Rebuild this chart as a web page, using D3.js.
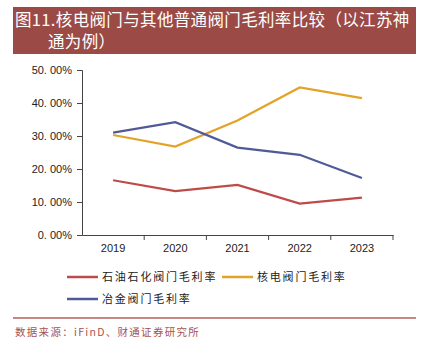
<!DOCTYPE html>
<html>
<head>
<meta charset="utf-8">
<script src="https://cdn.jsdelivr.net/npm/d3@7"></script>
<style>
  body { margin: 0; background: #fff; }
  svg { display: block; }
</style>
</head>
<body>
<div id="chart"></div>
<script>
// data
const years = ['2019', '2020', '2021', '2022', '2023'];
const petro = [16.6, 13.3, 15.2, 9.5, 11.3];     // 石油石化阀门毛利率
const nuclear = [30.3, 26.8, 34.7, 44.7, 41.5];  // 核电阀门毛利率
const metal = [31.0, 34.2, 26.5, 24.3, 17.3];    // 冶金阀门毛利率
const yTicks = [0, 10, 20, 30, 40, 50];

const series = [
  { name: '石油石化阀门毛利率', values: petro, color: '#BE4B48' },
  { name: '核电阀门毛利率', values: nuclear, color: '#E3A228' },
  { name: '冶金阀门毛利率', values: metal, color: '#505A98' },
];

const width = 425;
const height = 348;
const cjk = '"Noto Sans CJK SC", "Noto Sans", sans-serif';

const svg = d3.select('#chart')
  .append('svg')
  .attr('width', width)
  .attr('height', height);

// title banner
svg.append('rect')
  .attr('x', 13).attr('y', 7)
  .attr('width', 403).attr('height', 47)
  .attr('fill', '#9C4A46');

const title = svg.append('text')
  .attr('fill', '#fff')
  .attr('font-family', cjk)
  .attr('font-size', 16.5)
  .attr('letter-spacing', 0.35);
title.append('tspan').attr('x', 15).attr('y', 26)
  .text('图11.核电阀门与其他普通阀门毛利率比较（以江苏神');
title.append('tspan').attr('x', 48).attr('y', 48)
  .text('通为例）');

// scales
const x = d3.scaleBand().domain(years).range([82, 393]);
const y = d3.scaleLinear().domain([0, 50]).range([235, 70]);

// y axis
const yAxis = svg.append('g')
  .attr('transform', 'translate(82,0)')
  .call(d3.axisLeft(y).tickValues(yTicks).tickSize(5).tickPadding(5)
    .tickFormat((d) => d3.format('.2f')(d).replace('.', '. ') + '%'));
yAxis.selectAll('text')
  .attr('font-family', 'Arial, "Liberation Sans", sans-serif')
  .attr('font-size', 11)
  .attr('fill', '#222');

// x axis
const xAxis = svg.append('g')
  .attr('transform', 'translate(0,235)')
  .call(d3.axisBottom(x).tickSize(0).tickPadding(9));
xAxis.selectAll('text')
  .attr('font-family', 'Arial, "Liberation Sans", sans-serif')
  .attr('font-size', 11)
  .attr('fill', '#222');
// boundary ticks between categories
xAxis.selectAll('.bound')
  .data(years.slice(1).concat(['end']))
  .join('line')
  .attr('class', 'bound')
  .attr('x1', (d, i) => x(years[0]) + x.step() * (i + 1))
  .attr('x2', (d, i) => x(years[0]) + x.step() * (i + 1))
  .attr('y1', 0).attr('y2', 5)
  .attr('stroke', '#444');
svg.selectAll('.domain').attr('stroke', '#444');
svg.selectAll('.tick line').attr('stroke', '#444');

// lines
const line = d3.line()
  .x((d, i) => x(years[i]) + x.bandwidth() / 2)
  .y((d) => y(d));

svg.append('g')
  .selectAll('path')
  .data(series)
  .join('path')
  .attr('d', (d) => line(d.values))
  .attr('fill', 'none')
  .attr('stroke', (d) => d.color)
  .attr('stroke-width', 2.2);

// legend
const legendPos = [[67, 277], [222, 277], [67, 299]];
const legend = svg.append('g')
  .selectAll('g')
  .data(series)
  .join('g')
  .attr('transform', (d, i) => `translate(${legendPos[i][0]},${legendPos[i][1]})`);
legend.append('line')
  .attr('x1', 0).attr('x2', 31)
  .attr('stroke', (d) => d.color)
  .attr('stroke-width', 2.5);
legend.append('text')
  .attr('x', 35).attr('dy', '0.35em')
  .attr('font-family', cjk)
  .attr('font-size', 11)
  .attr('letter-spacing', 1.8)
  .attr('fill', '#222')
  .text((d) => d.name);

// source
svg.append('line')
  .attr('x1', 13).attr('x2', 416)
  .attr('y1', 318).attr('y2', 318)
  .attr('stroke', '#B5605C')
  .attr('stroke-width', 1.3);
svg.append('text')
  .attr('x', 15).attr('y', 336)
  .attr('font-family', cjk)
  .attr('font-size', 10.5)
  .attr('letter-spacing', 1.3)
  .attr('fill', '#A8524E')
  .text('数据来源：iFinD、财通证券研究所');
</script>
</body>
</html>
